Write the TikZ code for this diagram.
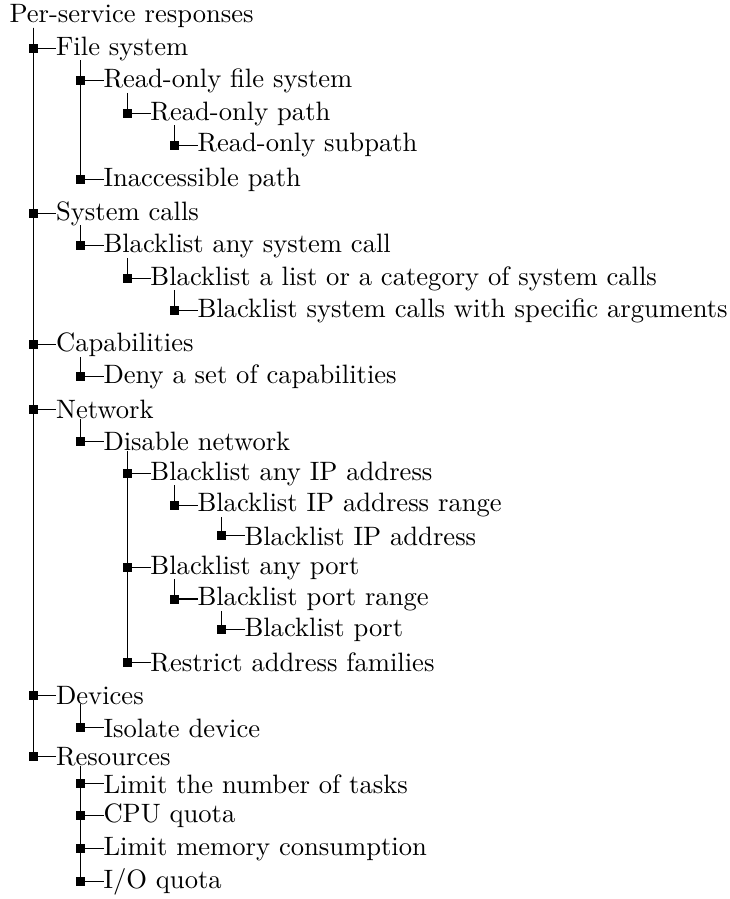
\documentclass[tikz,border=0pt]{standalone}
\usepackage{tikz}
\usetikzlibrary{calc}

\tikzset{
    item/.style={anchor=base west, inner sep=0pt, outer sep=0pt},
    tick/.style={fill=black, draw=none, inner sep=0pt, outer sep=0pt, minimum size=3.4pt},
    branch/.style={black, line width=0.4pt},
}

\begin{document}
\begin{tikzpicture}[x=0.376pt, y=-0.376pt]
        \useasboundingbox (0,0) rectangle (729,899);
        \node[item] (root) at (9.5,22.7) {Per-service responses};
        % file system
        \node[item] (fs) at (56.1,55) {File system};
        \node[item] (rofs) at (103.5,87.3) {Read-only file system};
        \node[item] (ropath) at (150.5,120) {Read-only path};
        \node[item] (rosub) at (197.5,151.7) {Read-only subpath};
        \node[item] (inacc) at (103.5,186) {Inaccessible path};
        % system calls
        \node[item] (sys) at (56.1,220) {System calls};
        \node[item] (blany) at (103.5,252.3) {Blacklist any system call};
        \node[item] (bllist) at (150.5,285) {Blacklist a list or a category of system calls};
        \node[item] (blargs) at (197.5,317.3) {Blacklist system calls with specific arguments};
        % capabilities
        \node[item] (cap) at (56.1,351.7) {Capabilities};
        \node[item] (deny) at (103.5,383.3) {Deny a set of capabilities};
        % network
        \node[item] (net) at (56.1,418.3) {Network};
        \node[item] (nonet) at (103.5,450.7) {Disable network};
        \node[item] (anyip) at (150.5,480) {Blacklist any IP address};
        \node[item] (iprange) at (197.5,511.7) {Blacklist IP address range};
        \node[item] (ip) at (244.5,545) {Blacklist IP address};
        \node[item] (anyport) at (150.5,574) {Blacklist any port};
        \node[item] (portrange) at (197.5,605.5) {Blacklist port range};
        \node[item] (port) at (244.5,636) {Blacklist port};
        \node[item] (family) at (150.5,671.7) {Restrict address families};
        % devices
        \node[item] (dev) at (56.1,704) {Devices};
        \node[item] (isolate) at (103.5,737) {Isolate device};
        % resources
        \node[item] (res) at (56.1,765) {Resources};
        \node[item] (tasks) at (103.5,793) {Limit the number of tasks};
        \node[item] (cpu) at (103.5,822) {CPU quota};
        \node[item] (mem) at (103.5,855) {Limit memory consumption};
        \node[item] (io) at (103.5,888) {I/O quota};

        % branches and ticks
        \foreach \p/\c in {root/fs, fs/rofs, rofs/ropath, ropath/rosub, fs/inacc,
                root/sys, sys/blany, blany/bllist, bllist/blargs,
                root/cap, cap/deny,
                root/net, net/nonet, nonet/anyip, anyip/iprange, iprange/ip,
                nonet/anyport, anyport/portrange, portrange/port, nonet/family,
                root/dev, dev/isolate,
                root/res, res/tasks, res/cpu, res/mem, res/io} {
            \node[tick] (\c-m) at ([xshift=-8.5pt]\c.west) {};
            \draw[branch] (\p.south -| \c-m) -- (\c-m) -- (\c.west);
        }
    \end{tikzpicture}
\end{document}
